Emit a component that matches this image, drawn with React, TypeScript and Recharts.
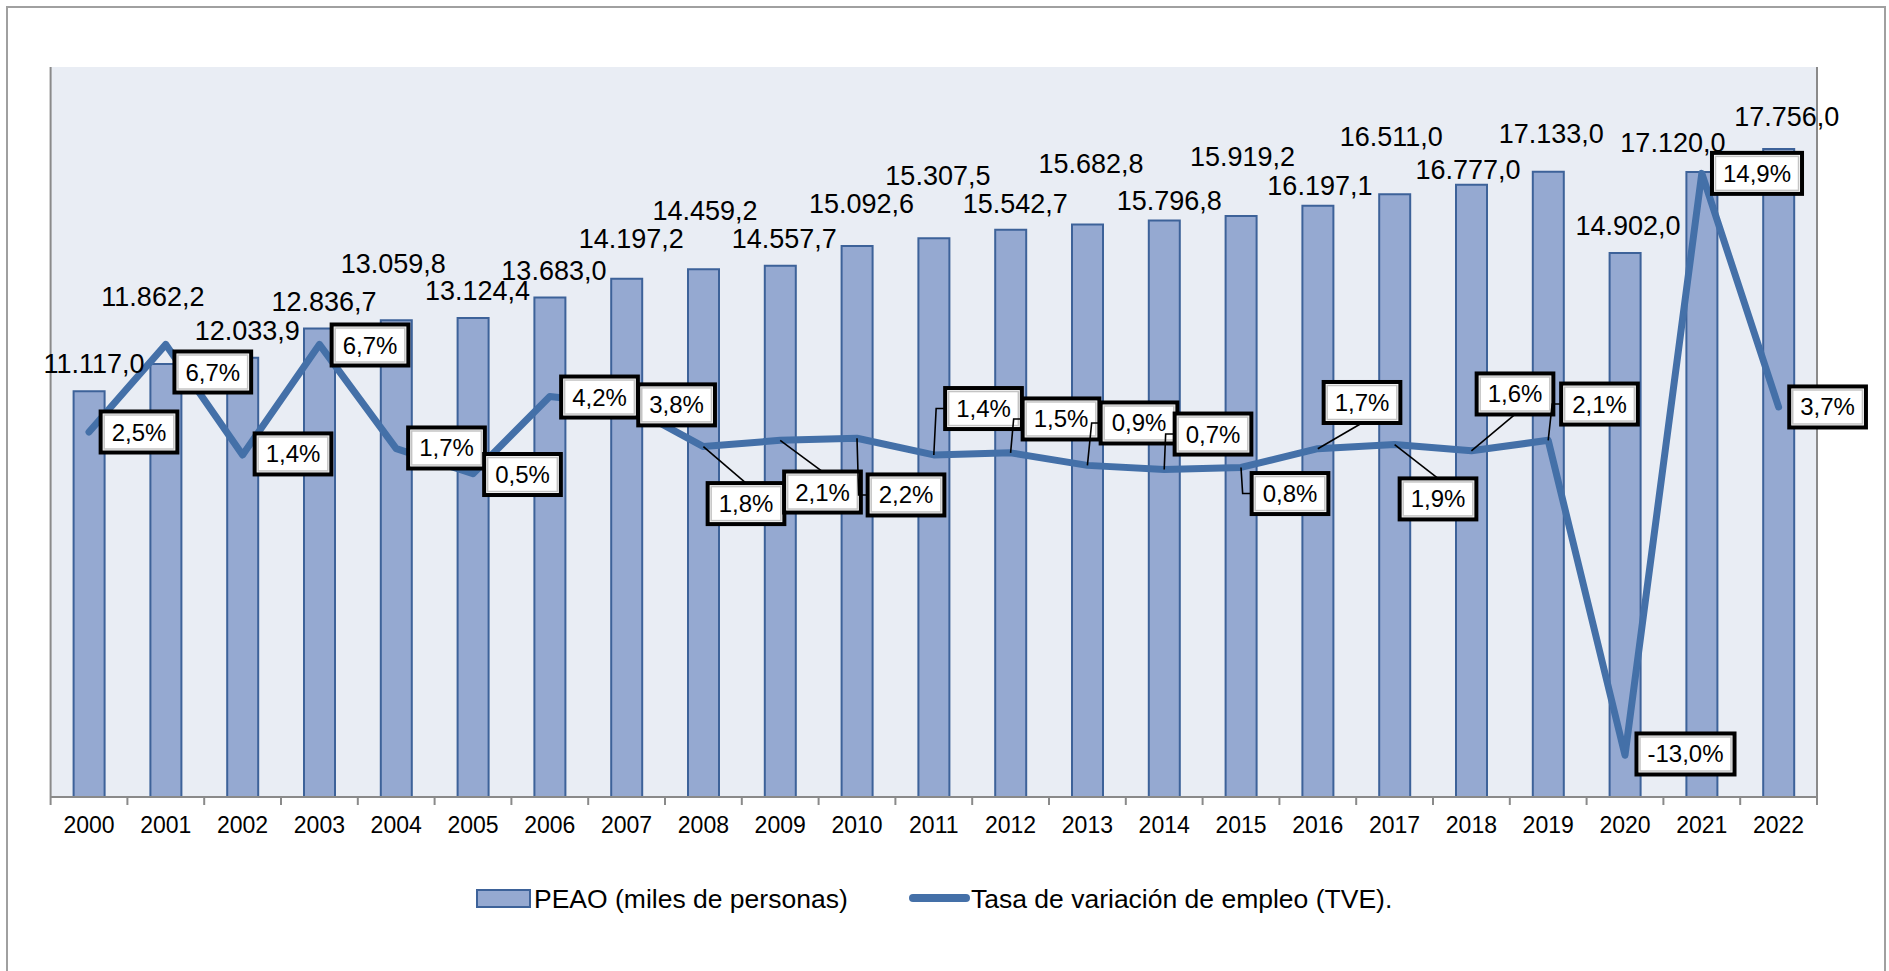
import React from 'react';
import { ComposedChart, Bar, Line, XAxis, YAxis, CartesianGrid, LabelList, Legend } from 'recharts';

// ---------- data ----------
const years = ['2000', '2001', '2002', '2003', '2004', '2005', '2006', '2007', '2008', '2009', '2010', '2011', '2012', '2013', '2014', '2015', '2016', '2017', '2018', '2019', '2020', '2021', '2022'];
const peao = [11117.0, 11862.2, 12033.9, 12836.7, 13059.8, 13124.4, 13683.0, 14197.2, 14459.2, 14557.7, 15092.6, 15307.5, 15542.7, 15682.8, 15796.8, 15919.2, 16197.1, 16511.0, 16777.0, 17133.0, 14902.0, 17120.0, 17756.0];
const tve = [2.5, 6.7, 1.4, 6.7, 1.7, 0.5, 4.2, 3.8, 1.8, 2.1, 2.2, 1.4, 1.5, 0.9, 0.7, 0.8, 1.7, 1.9, 1.6, 2.1, -13.0, 14.9, 3.7];
const leftTicks = [0, 2000, 4000, 6000, 8000, 10000, 12000, 14000, 16000, 18000, 20000];
const rightTicks = [-15, -10, -5, 0, 5, 10, 15, 20];
const seriesNames = ['PEAO (miles de personas)', 'Tasa de variación de empleo (TVE).'];

// ---------- label placement (relative to each mark) ----------
const barLabelOffset: [number, number][] = [
  [5, -27], [-13, -67], [4.5, -27], [4.5, -26.5], [-3, -56], [4.5, -27], [4, -26.6], [4.5, -40],
  [1.5, -58], [4, -26.6], [4.5, -42.6], [4, -62], [4.5, -26], [3.5, -60.6], [5, -19.4], [1.5, -59.4],
  [2, -20], [-3.5, -57], [-3.5, -15], [3, -37.6], [3, -26.6], [-29, -29], [8, -32],
];
const rateLabelOffset: [number, number][] = [
  [50, 0], [47, 27.6], [50.4, -1], [50.6, 0.6], [50.3, -0.7], [49.5, 0.8], [49.7, 0.5], [50, 0],
  [42.6, 57], [42.3, 51.7], [49, 56.7], [49.7, -46.4], [50.4, -33.9], [51.6, -42.4], [48.8, -35.5], [49, 26.1],
  [44.2, -46.2], [43.4, 54.4], [43.6, -56.8], [51.3, -36.3], [60.5, -1.3], [55.2, 0], [49, 0],
];
const rateLeader = ['', '', '', '', '', '', '', '', 'T', 'T', 'L', 'L', 'L', 'L', 'L', 'L', 'B', 'T', 'B', 'L', '', '', ''];

const data = years.map((y, i) => ({ year: y, peao: peao[i], tve: tve[i] }));

// ---------- styles ----------
const FONT = 'Liberation Sans, Arial, sans-serif';
const BAR_FILL = '#95A9D1';
const BAR_STROKE = '#3D6299';
const LINE_COLOR = '#4470A8';
const AXIS_COLOR = '#8A8A8A';

const fmtThousands = (v: number) => {
  const [int, dec] = v.toFixed(1).split('.');
  return int.replace(/\B(?=(\d{3})+(?!\d))/g, '.') + ',' + dec;
};
const fmtPct = (v: number) => v.toFixed(1).replace('.', ',') + '%';
const emWidth = (s: string) =>
  [...s].reduce((a, c) => a + (c === ',' || c === '.' ? 0.278 : c === '%' ? 0.889 : c === '-' ? 0.333 : 0.556), 0);

const getXY = (props: any) => {
  const vb = props.viewBox || {};
  return {
    x: props.x ?? vb.x,
    y: props.y ?? vb.y,
    width: props.width ?? vb.width ?? 0,
  };
};

const BarValueLabel = (props: any) => {
  const { index, value } = props;
  const { x, y, width } = getXY(props);
  if (x == null || y == null || index == null) return null;
  const [dx, dy] = barLabelOffset[index] || [0, -27];
  return (
    <text x={x + width / 2 + dx} y={y + dy} textAnchor="middle" dominantBaseline="central"
      fontSize={27} fontFamily={FONT} fill="#000">
      {fmtThousands(Number(value))}
    </text>
  );
};

const RateLabel = (props: any) => {
  const { index, value } = props;
  const { x, y } = getXY(props);
  if (x == null || y == null || index == null) return null;
  const [dx, dy] = rateLabelOffset[index] || [50, 0];
  const txt = fmtPct(Number(value));
  const fs = 24;
  const w = emWidth(txt) * fs + 22;
  const h = 41;
  const bx = x + dx;
  const by = y + dy;
  const kind = rateLeader[index];
  let leader: React.ReactNode = null;
  if (kind === 'T') {
    leader = <polyline points={`${x},${y} ${bx},${by - h / 2}`} fill="none" stroke="#000" strokeWidth={1.6} />;
  } else if (kind === 'B') {
    leader = <polyline points={`${x},${y} ${bx},${by + h / 2}`} fill="none" stroke="#000" strokeWidth={1.6} />;
  } else if (kind === 'L') {
    const sx = bx - w / 2 - 9;
    leader = <polyline points={`${x},${y} ${sx},${by} ${bx - w / 2},${by}`} fill="none" stroke="#000" strokeWidth={1.6} />;
  }
  return (
    <g>
      {leader}
      <rect x={bx - w / 2} y={by - h / 2} width={w} height={h} fill="#fff" stroke="#000" strokeWidth={4} />
      <rect x={bx - w / 2 + 3.5} y={by - h / 2 + 3.5} width={w - 7} height={h - 7} fill="#fff" stroke="#C4C4C4" strokeWidth={1.5} />
      <text x={bx} y={by} textAnchor="middle" dominantBaseline="central" fontSize={fs} fontFamily={FONT} fill="#000">
        {txt}
      </text>
    </g>
  );
};

const XTick = (props: any) => {
  const { x, y, payload, index, visibleTicksCount } = props;
  const off = payload?.offset ?? 0;
  const axisY = y - 20;
  return (
    <g>
      <line x1={x - off} x2={x - off} y1={axisY} y2={axisY + 8} stroke={AXIS_COLOR} strokeWidth={2} />
      {index === visibleTicksCount - 1 && (
        <line x1={x + off} x2={x + off} y1={axisY} y2={axisY + 8} stroke={AXIS_COLOR} strokeWidth={2} />
      )}
      <text x={x} y={y} dy="0.71em" textAnchor="middle" fontSize={23} fontFamily={FONT} fill="#000">
        {payload.value}
      </text>
    </g>
  );
};

const legendX = [477, 909];
const LegendContent = (props: any) => {
  const payload = props.payload || [];
  return (
    <svg width={1889} height={60} style={{ display: 'block' }}>
      {payload.map((p: any, i: number) => {
        const lx = legendX[i] ?? 477 + i * 432;
        const isLine = p.type === 'line' || i === 1;
        return (
          <g key={i}>
            {isLine ? (
              <line x1={lx + 4} x2={lx + 57} y1={28} y2={28} stroke={LINE_COLOR} strokeWidth={8} strokeLinecap="round" />
            ) : (
              <rect x={lx} y={20} width={53} height={17} fill={BAR_FILL} stroke={BAR_STROKE} strokeWidth={2} />
            )}
            <text x={lx + (isLine ? 62 : 57)} y={29} dominantBaseline="central" fontSize={26.5} fontFamily={FONT} fill="#000">
              {p.value}
            </text>
          </g>
        );
      })}
    </svg>
  );
};

export default function App() {
  return (
    <div style={{ position: 'absolute', left: 0, top: 0, width: 1889, height: 971, overflow: 'hidden', background: '#fff' }}>
      <div style={{ position: 'absolute', left: 6, top: 6, width: 1880, height: 1000, border: '2px solid #A0A0A0', boxSizing: 'border-box' }} />
      <div style={{ position: 'absolute', left: 0, top: 0 }}>
        <ComposedChart width={1889} height={971} data={data} margin={{ top: 67, right: 62, bottom: 134, left: 40.6 }}>
          <CartesianGrid yAxisId="left" horizontal={false} vertical={false} fill="#E9EDF4" stroke="none" />
          <XAxis dataKey="year" interval={0} height={40} tickLine={false} tickSize={8} tickMargin={12}
            axisLine={{ stroke: AXIS_COLOR, strokeWidth: 2 }} tick={<XTick />} />
          <YAxis yAxisId="left" orientation="left" width={10} domain={[0, 20000]} ticks={leftTicks} tick={false}
            tickSize={5} tickLine={{ stroke: AXIS_COLOR, strokeWidth: 1.5 }} axisLine={{ stroke: AXIS_COLOR, strokeWidth: 2 }} allowDataOverflow />
          <YAxis yAxisId="right" orientation="right" width={10} domain={[-15, 20]} ticks={rightTicks} tick={false}
            tickSize={5} tickLine={{ stroke: AXIS_COLOR, strokeWidth: 1.5 }} axisLine={{ stroke: AXIS_COLOR, strokeWidth: 2 }} allowDataOverflow />
          <Bar yAxisId="left" dataKey="peao" name={seriesNames[0]} barSize={31} fill={BAR_FILL} stroke={BAR_STROKE}
            strokeWidth={2} isAnimationActive={false}>
            <LabelList dataKey="peao" content={<BarValueLabel />} />
          </Bar>
          <Line yAxisId="right" type="linear" dataKey="tve" name={seriesNames[1]} stroke={LINE_COLOR} strokeWidth={7}
            strokeLinejoin="round" strokeLinecap="round" dot={false} activeDot={false} isAnimationActive={false}>
            <LabelList dataKey="tve" content={<RateLabel />} />
          </Line>
          <Legend layout="horizontal" verticalAlign="middle" align="center"
            wrapperStyle={{ position: 'absolute', left: 0, top: 870, width: 1889, height: 60 }}
            content={<LegendContent />} />
        </ComposedChart>
      </div>
    </div>
  );
}
